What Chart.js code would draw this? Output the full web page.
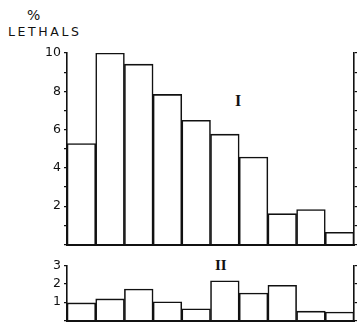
<!DOCTYPE html>
<html>
<head>
<meta charset="utf-8">
<script src="https://cdn.jsdelivr.net/npm/chart.js@4.4.0/dist/chart.umd.min.js"></script>
<style>
    body { margin: 0; background: #fff; width: 359px; height: 323px; overflow: hidden; position: relative; font-family: "DejaVu Sans", sans-serif; }
    .lbl { position: absolute; color: #111; white-space: nowrap; }
    #top-wrap { position: absolute; left: 0; top: 0; width: 359px; height: 255px; }
    #bot-wrap { position: absolute; left: 0; top: 255px; width: 359px; height: 76px; }
</style>
</head>
<body>
<div class="lbl" style="left:27px; top:7px; font-size:14px;">%</div>
<div class="lbl" style="left:8px; top:24px; font-size:12.5px; letter-spacing:2.6px;">LETHALS</div>
<div class="lbl" style="left:235px; top:92px; font-size:16px; font-family:'Liberation Serif', serif; font-weight:bold;">I</div>
<div class="lbl" style="left:215px; top:257px; font-size:15px; font-family:'Liberation Serif', serif; font-weight:bold;">II</div>

<div id="top-wrap"><canvas id="chartTop" width="359" height="255"></canvas></div>
<div id="bot-wrap"><canvas id="chartBot" width="359" height="76"></canvas></div>

<script>
// ten classes along the x axis, no labels printed
var categories = ['1', '2', '3', '4', '5', '6', '7', '8', '9', '10'];
// panel I, % lethals
var lethalsI = [5.27, 10.0, 9.42, 7.84, 6.49, 5.76, 4.57, 1.61, 1.83, 0.64];
// panel II, % lethals
var lethalsII = [0.96, 1.18, 1.72, 1.02, 0.64, 2.17, 1.5, 1.92, 0.51, 0.46];
var tickLabelsI = ['2', '4', '6', '8', '10'];
var tickLabelsII = ['1', '2', '3'];

function make_chart(id, values, maxY, labels, pad, yWidth) {
    var ctx = document.getElementById(id).getContext('2d');
    return new Chart(ctx, {
        type: 'bar',
        data: {
            labels: categories,
            datasets: [{
                data: values,
                backgroundColor: '#fff',
                borderColor: '#111',
                borderWidth: 1.6,
                borderSkipped: 'bottom',
                categoryPercentage: 1,
                barPercentage: 1
            }]
        },
        options: {
            responsive: false,
            animation: false,
            events: [],
            layout: { padding: pad },
            plugins: { legend: { display: false }, tooltip: { enabled: false }, title: { display: false } },
            scales: {
                x: {
                    ticks: { display: false },
                    grid: { display: false },
                    border: { display: true, color: '#111', width: 2 },
                    afterFit: function(scale) { scale.height = 0; }
                },
                y: {
                    position: 'left',
                    min: 0,
                    max: maxY,
                    ticks: {
                        stepSize: 1,
                        autoSkip: false,
                        color: '#111',
                        padding: 3,
                        font: { family: 'DejaVu Sans', size: 12.5 },
                        callback: function(v) {
                            var s = String(v);
                            return labels.indexOf(s) >= 0 ? s : '';
                        }
                    },
                    grid: { drawOnChartArea: false, drawTicks: true, tickLength: 3, color: '#111', lineWidth: 1.2 },
                    border: { display: true, color: '#111', width: 1.6 },
                    afterFit: function(scale) { scale.width = yWidth; }
                },
                yr: {
                    position: 'right',
                    min: 0,
                    max: maxY,
                    ticks: { stepSize: 1, autoSkip: false, callback: function() { return ''; } },
                    grid: { drawOnChartArea: false, drawTicks: true, tickLength: 3, color: '#111', lineWidth: 1.2 },
                    border: { display: true, color: '#111', width: 1.6 },
                    afterFit: function(scale) { scale.width = 5; }
                }
            }
        }
    });
}

make_chart('chartTop', lethalsI, 10, tickLabelsI, { top: 53, bottom: 6, left: 0, right: 0 }, 67);
make_chart('chartBot', lethalsII, 3, tickLabelsII, { top: 9, bottom: 4, left: 0, right: 0 }, 67);
</script>
</body>
</html>
